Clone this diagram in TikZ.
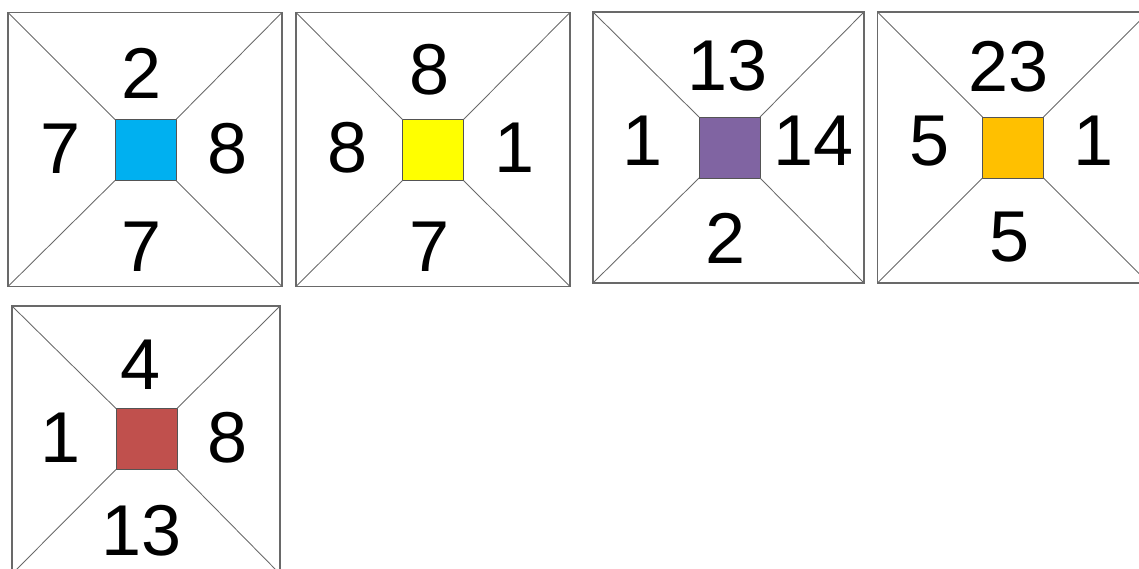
\documentclass[tikz,border=0pt]{standalone}
\usepackage{fontspec}
\setmainfont{Liberation Sans}
\usepackage{xcolor}
\definecolor{myblue}{RGB}{0, 176, 240}
\definecolor{myyellow}{RGB}{255, 255, 0}
\definecolor{mypurple}{RGB}{128, 100, 162}
\definecolor{myorange}{RGB}{255, 192, 0}
\definecolor{myred}{RGB}{192, 80, 77}
\definecolor{mygray}{RGB}{105, 105, 105}
\tikzset{
  frame/.style={draw=mygray, line width=0.9pt, inner sep=0pt, outer sep=0pt, minimum size=#1},
  core/.style={draw=mygray!80!black, line width=0.7pt, fill=#1, inner sep=0pt, outer sep=0pt, minimum size=45.75pt},
  spoke/.style={draw=mygray, line width=0.65pt},
  num/.style={font=\fontsize{54}{60}\selectfont, inner sep=0pt}
}

\begin{document}
\begin{tikzpicture}[x=0.75pt, y=-0.75pt]
\useasboundingbox (0,0) rectangle (1139,568);
\clip (0,0) rectangle (1139,568);

% tile 1
\node[frame=205.5pt] (f1) at (145,149.5) {};
\node[core=myblue] (c1) at (145.5,150) {};
\draw[spoke] (f1.north west) -- (c1.north west);
\draw[spoke] (f1.north east) -- (c1.north east);
\draw[spoke] (f1.south west) -- (c1.south west);
\draw[spoke] (f1.south east) -- (c1.south east);
\node[num] (t1) at (142,73) {2};
\node[num] (l1) at (61,149) {7};
\node[num] (r1) at (228,149) {8};
\node[num] (b1) at (142,247) {7};

% tile 2
\node[frame=205.5pt] (f2) at (433,149.5) {};
\node[core=myyellow] (c2) at (433,150) {};
\draw[spoke] (f2.north west) -- (c2.north west);
\draw[spoke] (f2.north east) -- (c2.north east);
\draw[spoke] (f2.south west) -- (c2.south west);
\draw[spoke] (f2.south east) -- (c2.south east);
\node[num] (t2) at (430,70) {8};
\node[num] (l2) at (348,148) {8};
\node[num] (r2) at (515,148) {1};
\node[num] (b2) at (430,247) {7};

% tile 3
\node[frame=203.25pt] (f3) at (728.5,147.5) {};
\node[core=mypurple] (c3) at (729.5,147.5) {};
\draw[spoke] (f3.north west) -- (c3.north west);
\draw[spoke] (f3.north east) -- (c3.north east);
\draw[spoke] (f3.south west) -- (c3.south west);
\draw[spoke] (f3.south east) -- (c3.south east);
\node[num] (t3) at (728,66) {13};
\node[num] (l3) at (643,141) {1};
\node[num] (r3) at (814,141) {14};
\node[num] (b3) at (726,238) {2};

% tile 4
\node[frame=203.25pt] (f4) at (1013,147.5) {};
\node[core=myorange] (c4) at (1013,147.5) {};
\draw[spoke] (f4.north west) -- (c4.north west);
\draw[spoke] (f4.north east) -- (c4.north east);
\draw[spoke] (f4.south west) -- (c4.south west);
\draw[spoke] (f4.south east) -- (c4.south east);
\node[num] (t4) at (1009,67) {23};
\node[num] (l4) at (930,141) {5};
\node[num] (r4) at (1094,141) {1};
\node[num] (b4) at (1010,237) {5};

% tile 5
\node[frame=201pt] (f5) at (146,440) {};
\node[core=myred] (c5) at (146.5,439) {};
\draw[spoke] (f5.north west) -- (c5.north west);
\draw[spoke] (f5.north east) -- (c5.north east);
\draw[spoke] (f5.south west) -- (c5.south west);
\draw[spoke] (f5.south east) -- (c5.south east);
\node[num] (t5) at (141,365) {4};
\node[num] (l5) at (61,438) {1};
\node[num] (r5) at (228,438) {8};
\node[num] (b5) at (142,531) {13};
\end{tikzpicture}
\end{document}
